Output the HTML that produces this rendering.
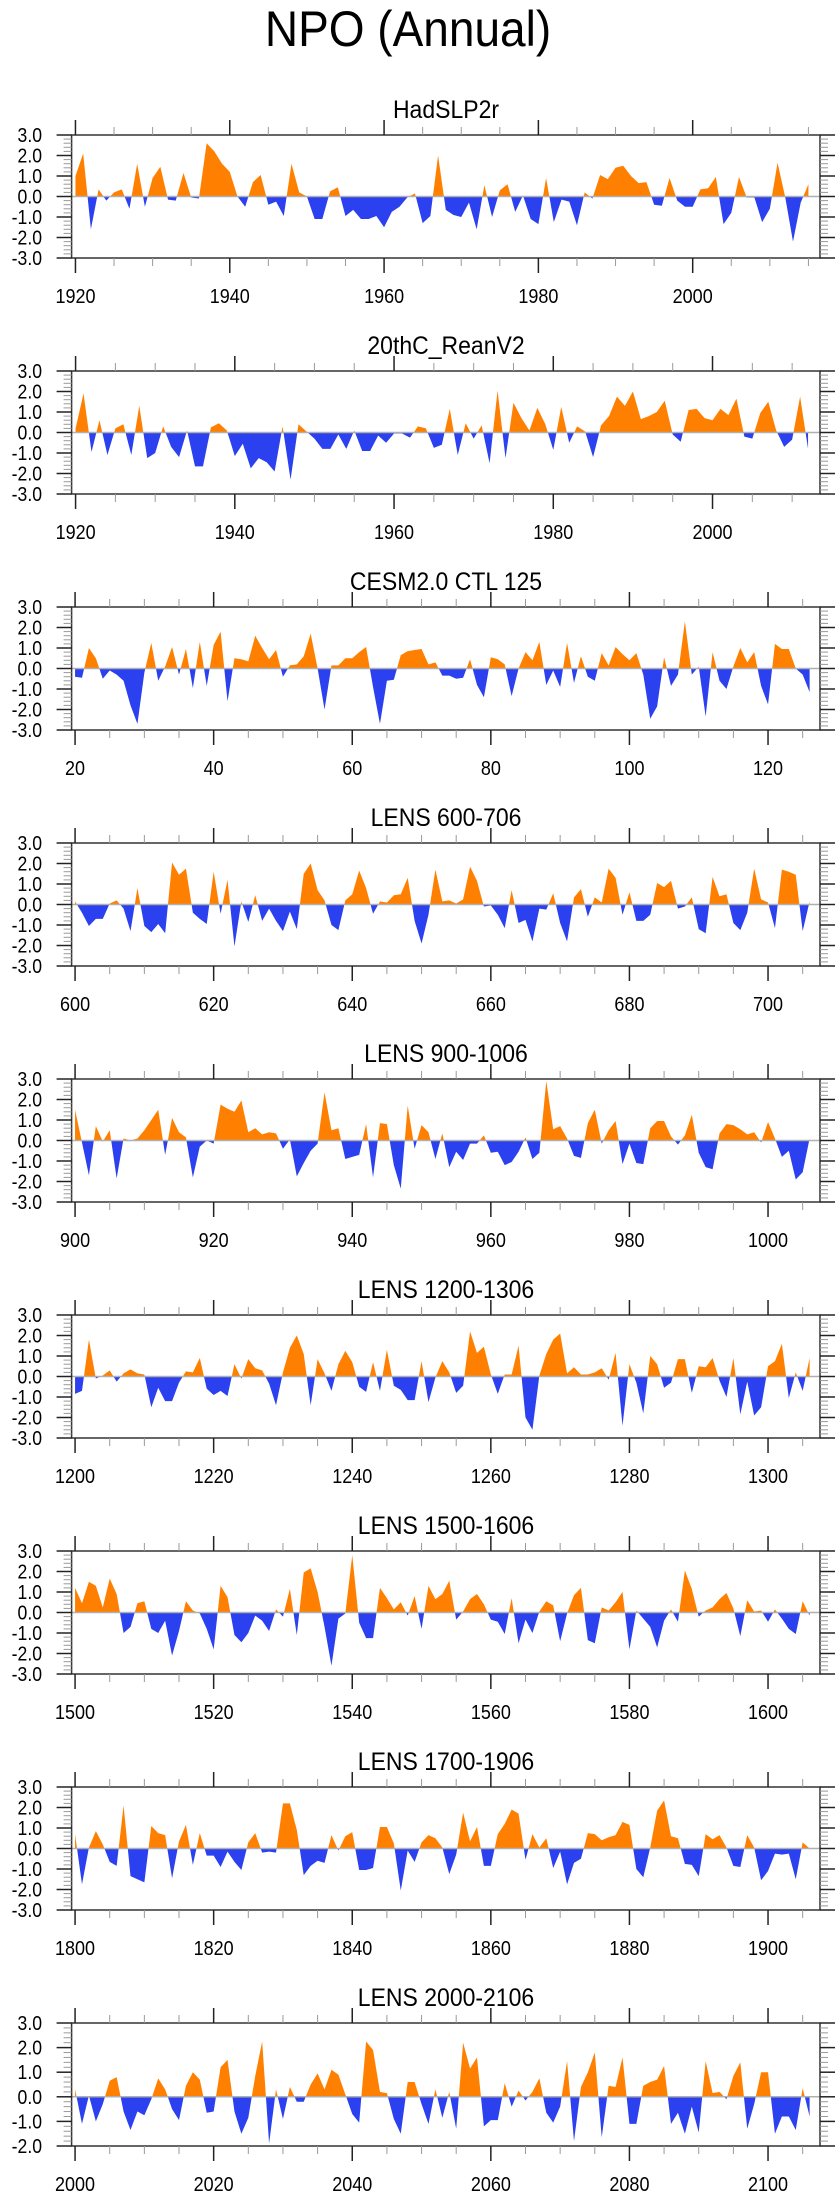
<!DOCTYPE html>
<html><head><meta charset="utf-8">
<style>
html,body{margin:0;padding:0;background:#fff;}
svg{display:block;font-family:"Liberation Sans",Arial,sans-serif;}
</style></head>
<body>
<svg id="chart" width="840" height="2200" viewBox="0 0 840 2200" xmlns="http://www.w3.org/2000/svg">
<text x="0" y="46" font-size="50" text-anchor="middle" transform="translate(408,0) scale(0.92,1)">NPO (Annual)</text>
</svg>
<script>
const panelTitles = ["HadSLP2r","20thC_ReanV2","CESM2.0 CTL 125","LENS 600-706","LENS 900-1006","LENS 1200-1306","LENS 1500-1606","LENS 1700-1906","LENS 2000-2106"];
const startYears = [1920,1920,20,600,900,1200,1500,1800,2000];
const xMins = [1919.5,1919.5,19.5,599.5,899.5,1199.5,1499.5,1799.5,1999.5];
const xMaxs = [2016.5,2013.5,127.5,707.5,1007.5,1307.5,1607.5,1907.5,2107.5];
const yMins = [-3,-3,-3,-3,-3,-3,-3,-3,-2];
const yMaxs = [3,3,3,3,3,3,3,3,3];
const xTickStarts = [1920,1920,20,600,900,1200,1500,1800,2000];
const yTickLabels = ["-3.0","-2.0","-1.0","0.0","1.0","2.0","3.0"];

const had = [1.0,2.1,-1.6,0.35,-0.2,0.2,0.35,-0.6,1.6,-0.5,0.9,1.45,-0.15,-0.2,1.15,-0.05,-0.1,2.6,2.2,1.6,1.2,0.0,-0.5,0.7,1.05,-0.4,-0.25,-0.95,1.6,0.2,0.0,-1.1,-1.1,0.25,0.45,-0.95,-0.65,-1.1,-1.1,-0.95,-1.5,-0.75,-0.5,-0.05,0.15,-1.3,-0.95,2.0,-0.65,-0.9,-1.0,-0.3,-1.6,0.55,-1.0,0.3,0.6,-0.75,0.05,-1.1,-1.35,0.9,-1.25,-0.15,-0.25,-1.4,0.2,-0.1,1.05,0.85,1.4,1.5,1.0,0.65,0.7,-0.4,-0.45,0.9,-0.2,-0.5,-0.5,0.35,0.4,0.95,-1.35,-0.8,0.95,-0.05,-0.05,-1.25,-0.6,1.65,-0.05,-2.2,-0.3,0.6];
const rean = [0.2,1.9,-0.95,0.6,-1.1,0.2,0.4,-1.1,1.3,-1.25,-1.0,0.3,-0.7,-1.2,0.1,-1.65,-1.65,0.25,0.45,0.1,-1.15,-0.55,-1.75,-1.25,-1.45,-1.9,0.3,-2.3,0.4,0.05,-0.3,-0.8,-0.8,-0.1,-0.8,0.1,-0.9,-0.9,-0.15,-0.5,-0.05,-0.05,-0.25,0.3,0.2,-0.75,-0.6,1.15,-1.1,0.45,-0.3,0.35,-1.5,2.05,-1.25,1.45,0.7,0.1,1.2,0.4,-0.85,1.25,-0.5,0.3,0.05,-1.2,0.35,0.8,1.75,1.3,2.0,0.65,0.8,1.0,1.55,-0.1,-0.45,1.1,1.15,0.7,0.6,1.15,0.85,1.65,-0.2,-0.3,0.95,1.5,0.1,-0.7,-0.35,1.75,-0.8];
const cesm = [-0.4,-0.45,1.0,0.5,-0.5,-0.1,-0.3,-0.6,-1.8,-2.7,-0.2,1.25,-0.6,0.1,1.05,-0.3,0.95,-0.95,1.3,-0.85,1.15,1.8,-1.6,0.5,0.45,0.35,1.6,1.0,0.45,0.9,-0.4,0.15,0.2,0.6,1.7,0.0,-2.0,0.15,0.15,0.5,0.5,0.8,1.05,-0.9,-2.7,-0.6,-0.55,0.65,0.85,0.9,0.95,0.2,0.3,-0.35,-0.35,-0.5,-0.45,0.45,-0.8,-1.4,0.55,0.45,0.2,-1.35,0.0,0.8,0.4,1.3,-0.8,-0.1,-0.9,1.25,-0.7,0.6,-0.4,-0.6,0.75,0.15,1.05,0.7,0.4,0.75,-0.3,-2.45,-1.85,0.55,-0.85,-0.3,2.3,-0.3,0.1,-2.35,0.8,-0.6,-1.0,0.1,1.0,0.3,0.8,-0.85,-1.75,1.2,0.95,0.95,0.0,-0.3,-1.15];
const lens600 = [0.15,-0.4,-1.05,-0.7,-0.7,0.05,0.2,-0.2,-1.3,0.8,-1.05,-1.35,-0.95,-1.4,2.05,1.45,1.75,-0.4,-0.7,-0.95,1.6,-0.45,1.2,-2.05,0.15,-0.85,0.45,-0.8,-0.2,-0.8,-1.3,-0.35,-1.2,1.5,2.0,0.7,0.2,-1.0,-1.25,0.2,0.5,1.65,0.8,-0.45,0.15,0.1,0.45,0.5,1.3,-0.8,-1.9,-0.5,1.7,0.15,0.2,0.05,0.25,1.85,1.15,-0.1,-0.05,-0.5,-1.15,0.7,-0.9,-0.75,-1.8,-0.2,-0.25,0.55,-0.9,-1.8,0.35,0.75,-0.6,0.35,0.1,1.75,1.3,-0.5,0.6,-0.8,-0.8,-0.5,1.05,0.85,1.15,-0.2,-0.1,0.35,-1.2,-1.4,1.35,0.4,0.5,-0.9,-1.25,-0.4,1.75,0.25,0.1,-1.15,1.7,1.6,1.45,-1.3,0.15];
const lens900 = [1.5,-0.1,-1.7,0.7,-0.05,0.5,-1.85,0.1,0.0,0.1,0.5,1.0,1.5,-0.7,1.1,0.4,0.15,-1.8,-0.3,0.0,-0.15,1.75,1.55,1.4,1.95,0.4,0.6,0.3,0.4,0.35,-0.4,0.05,-1.75,-1.1,-0.5,-0.15,2.35,0.5,0.6,-0.9,-0.8,-0.7,0.8,-1.8,0.85,0.8,-1.2,-2.35,1.7,-0.4,0.75,0.4,-0.9,0.35,-1.3,-0.55,-0.95,-0.15,-0.15,0.25,-0.6,-0.55,-1.2,-1.05,-0.55,0.15,-0.9,-0.6,2.9,0.55,0.7,0.1,-0.75,-0.85,0.85,1.5,-0.15,0.5,0.95,-1.15,-0.15,-1.1,-1.15,0.6,0.95,0.95,0.2,-0.2,0.25,1.25,-0.6,-1.3,-1.4,0.35,0.8,0.75,0.55,0.3,0.4,-0.1,0.9,0.1,-0.8,-0.5,-1.9,-1.55,0.1];
const lens1200 = [-0.85,-0.7,1.8,-0.1,0.05,0.3,-0.25,0.15,0.35,0.15,0.1,-1.5,-0.55,-1.2,-1.2,-0.3,0.25,0.2,0.9,-0.6,-0.9,-0.7,-0.95,0.6,-0.1,0.85,0.4,0.3,-0.35,-1.4,0.2,1.4,2.0,1.1,-1.4,0.85,0.15,-0.7,0.6,1.25,0.7,-0.5,-0.75,0.7,-0.7,1.3,-0.45,-0.65,-1.15,-1.15,0.75,-1.25,-0.05,0.75,0.2,-0.8,-0.45,2.2,1.15,1.45,0.1,-0.85,0.1,0.1,1.5,-2.0,-2.6,0.05,1.1,1.8,2.1,0.15,0.45,0.1,0.1,0.2,0.4,-0.15,1.15,-2.4,0.6,-0.3,-1.8,1.0,0.6,-0.55,-0.3,0.85,0.85,-0.8,0.5,0.45,0.9,-0.2,-1.0,0.9,-1.85,-0.25,-1.9,-1.5,0.5,0.75,1.6,-1.05,0.2,-0.7,0.9];
const lens1500 = [1.2,0.45,1.5,1.3,0.25,1.65,0.9,-1.0,-0.7,0.45,0.55,-0.8,-1.0,-0.4,-2.1,-0.9,0.55,0.1,-0.05,-0.8,-1.8,1.3,0.75,-1.1,-1.45,-1.0,-0.15,-0.4,-0.9,0.15,-0.2,1.15,-1.1,1.95,2.15,1.0,-0.7,-2.6,-0.3,-0.05,2.8,-0.5,-1.25,-1.25,1.2,0.7,0.15,0.5,-0.15,0.8,-0.8,1.3,0.65,0.9,1.55,-0.35,0.05,0.65,0.9,0.4,-0.35,-0.45,-1.05,0.7,-1.5,-0.35,-1.0,0.05,0.55,0.35,-1.4,-0.05,0.85,1.2,-1.35,-1.5,0.25,0.1,0.5,1.0,-1.8,0.1,-0.3,-0.7,-1.7,-0.4,0.15,-0.45,2.05,1.15,-0.2,0.1,0.25,0.65,0.95,0.2,-1.15,0.6,0.05,0.1,-0.45,0.15,-0.3,-0.8,-1.05,0.55,-0.15];
const lens1800 = [0.7,-1.75,0.05,0.85,0.2,-0.65,-0.85,2.1,-1.35,-1.5,-1.65,1.1,0.75,0.65,-1.45,0.35,1.15,-0.8,0.75,-0.35,-0.35,-0.9,-0.15,-0.65,-1.05,0.3,0.75,-0.2,-0.15,-0.2,2.2,2.2,0.9,-1.3,-0.85,-0.6,-0.7,0.65,-0.1,0.6,0.8,-1.05,-1.05,-0.95,1.05,1.05,0.25,-2.05,-0.1,-0.65,0.3,0.65,0.5,0.05,-1.25,-0.3,1.75,0.35,1.05,-0.85,-0.85,0.7,1.2,1.9,1.7,-0.55,0.7,0.05,0.5,-0.95,-0.15,-1.75,-0.7,-0.5,0.75,0.7,0.4,0.55,0.65,1.3,1.15,-1.0,-1.4,0.05,1.85,2.35,0.6,0.5,-0.75,-0.8,-1.35,0.7,0.45,0.65,0.05,-0.85,-0.9,0.65,0.05,-1.55,-1.1,-0.25,-0.3,-0.25,-1.5,0.3,0.0];
const lens2000 = [0.3,-1.1,0.05,-1.0,-0.3,0.65,0.8,-0.6,-1.35,-0.6,-0.75,-0.1,0.75,0.3,-0.5,-0.95,0.45,1.0,0.7,-0.65,-0.6,1.2,1.5,-0.6,-1.5,-0.85,0.85,2.25,-1.9,0.3,-0.9,0.4,-0.2,-0.2,0.5,0.95,0.3,1.1,0.9,0.1,-0.7,-1.05,2.25,1.9,0.2,0.15,-0.9,-1.5,0.6,0.6,-0.3,-1.1,0.3,-0.85,0.2,-1.3,2.2,1.15,1.6,-1.2,-0.95,-0.95,0.55,-0.4,0.25,-0.15,0.2,0.75,-0.65,-1.05,-0.4,1.45,-1.8,0.4,1.0,1.8,-1.65,0.45,0.4,1.6,-1.1,-1.1,0.45,0.6,0.7,1.25,-1.1,-0.65,-1.5,-0.4,-1.45,1.45,0.15,0.2,-0.1,0.85,1.4,-1.3,-0.3,1.0,1.0,-1.5,-0.8,-0.8,-1.35,0.35,-0.8];
const seriesList = [had,rean,cesm,lens600,lens900,lens1200,lens1500,lens1800,lens2000];

const svg = document.getElementById('chart');
const NS = 'http://www.w3.org/2000/svg';
function mk(tag, attrs, parent){
  const e = document.createElementNS(NS, tag);
  for (const k in attrs) e.setAttribute(k, attrs[k]);
  (parent||svg).appendChild(e);
  return e;
}
const L = 71.6, R = 820, PH = 123, TOP0 = 135, GAP = 236;

panelTitles.forEach((title, p) => {
  const top = TOP0 + GAP*p, bot = top + PH;
  const g = mk('g', {});
  
  
  const x = v => L + (v - xMins[p]) / (xMaxs[p] - xMins[p]) * (R - L);
  const y = v => bot - (v - yMins[p]) / (yMaxs[p] - yMins[p]) * PH;
  const data = seriesList[p];
  const pts = [];
  for (let i = 0; i < data.length; i++) {
    const yr = startYears[p] + i, v = data[i];
    if (i > 0) {
      const pv = data[i-1];
      if ((pv > 0 && v < 0) || (pv < 0 && v > 0)) {
        const t = pv / (pv - v);
        pts.push([yr - 1 + t, 0]);
      }
    }
    pts.push([yr, v]);
  }
  const y0 = y(0);
  const x0 = x(pts[0][0]), x1 = x(pts[pts.length-1][0]);
  let pos = 'M' + x0 + ',' + y0, neg = 'M' + x0 + ',' + y0;
  pts.forEach(([a, v]) => {
    pos += ' L' + x(a).toFixed(2) + ',' + y(Math.max(v,0)).toFixed(2);
    neg += ' L' + x(a).toFixed(2) + ',' + y(Math.min(v,0)).toFixed(2);
  });
  pos += ' L' + x1 + ',' + y0 + ' Z';
  neg += ' L' + x1 + ',' + y0 + ' Z';
  const pp = mk('path', {d: pos, fill: '#ff8000'}, g);
  
  
  const np = mk('path', {d: neg, fill: '#2b40ef'}, g);
  
  
  const zl = mk('line', {x1: L, x2: R, y1: y0, y2: y0, stroke: '#b0b0b0', 'stroke-width': 1.5}, g);
  
  
  const fr = mk('rect', {x: L, y: top, width: R-L, height: PH, fill: 'none', stroke: '#333', 'stroke-width': 1.5}, g);
  
  
  for (let k = 0; ; k++) {
    const v = yMins[p] + k*0.2;
    if (v > yMaxs[p] + 1e-6) break;
    const isMaj = Math.abs(v - Math.round(v)) < 1e-6;
    const len = isMaj ? 15 : 8;
    const col = isMaj ? '#222' : '#999';
    mk('line', {x1: L-len, x2: L, y1: y(v), y2: y(v), stroke: col, 'stroke-width': isMaj?1.5:1}, g);
    mk('line', {x1: R, x2: R+len, y1: y(v), y2: y(v), stroke: col, 'stroke-width': isMaj?1.5:1}, g);
    if (isMaj) {
      const lbl = yTickLabels[Math.round(v) + 3];
      const t = mk('text', {x: 0, y: y(v)+7, 'font-size': 20, 'text-anchor': 'end', transform: 'translate(42,0) scale(0.88,1)'}, g);
      
      
      t.textContent = lbl;
    }
  }
  for (let yr = xTickStarts[p]; yr <= xMaxs[p]; yr += 5) {
    const isMaj = (yr - xTickStarts[p]) % 20 === 0;
    const len = isMaj ? 15 : 8;
    const col = isMaj ? '#222' : '#999';
    mk('line', {x1: x(yr), x2: x(yr), y1: bot, y2: bot+len, stroke: col, 'stroke-width': isMaj?1.5:1}, g);
    mk('line', {x1: x(yr), x2: x(yr), y1: top-len, y2: top, stroke: col, 'stroke-width': isMaj?1.5:1}, g);
    if (isMaj) {
      const t = mk('text', {x: 0, y: bot+45, 'font-size': 20, 'text-anchor': 'middle', transform: 'translate(' + x(yr).toFixed(2) + ',0) scale(0.9,1)'}, g);
      
      
      t.textContent = String(yr);
    }
  }
  const tt = mk('text', {x: 0, y: top-17, 'font-size': 25, 'text-anchor': 'middle', transform: 'translate(446,0) scale(0.92,1)'}, g);
  
  
  tt.textContent = title;
});
</script>
</body></html>
